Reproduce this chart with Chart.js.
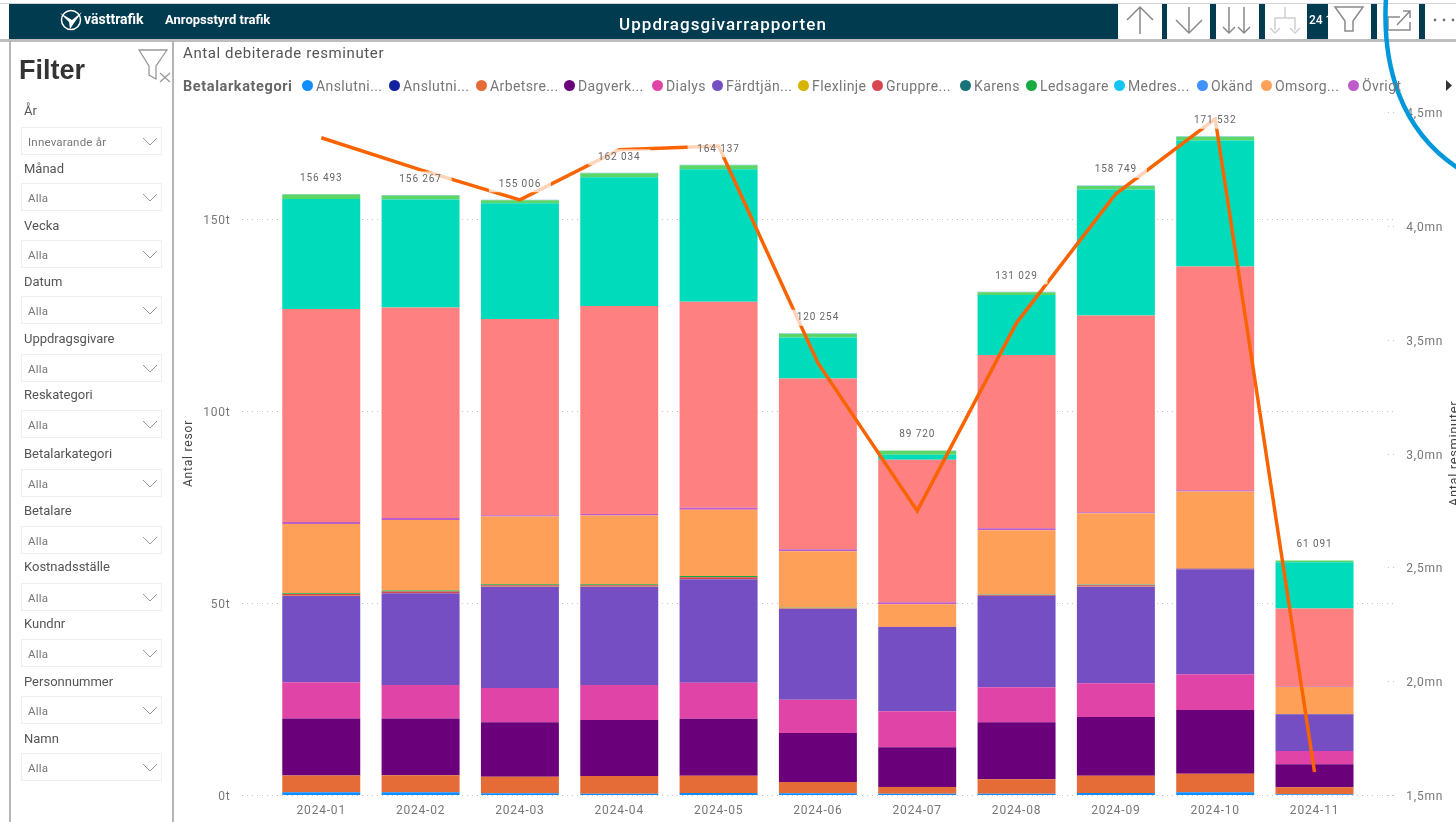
<!DOCTYPE html>
<html lang="sv">
<head>
<meta charset="utf-8">
<title>Uppdragsgivarrapporten</title>
<script src="https://cdn.jsdelivr.net/npm/chart.js@4/dist/chart.umd.min.js"></script>
<style>
    html, body { margin: 0; padding: 0; background: #fff; }
    body { width: 1456px; height: 822px; position: relative; overflow: hidden; font-family: Roboto, sans-serif; }
    .box { position: absolute; }
    .text { position: absolute; white-space: nowrap; line-height: 1; }
    #chart { position: absolute; left: 174px; top: 96px; }
    svg { position: absolute; left: 0; top: 0; pointer-events: none; }
    .dot { position: absolute; width: 11px; height: 11px; border-radius: 50%; top: 80px; }
    .legend-text { position: absolute; top: 78px; font-size: 14px; letter-spacing: 0.4px; color: #777; white-space: nowrap; line-height: 16px; }
    .slicer-label { position: absolute; left: 24px; font-size: 13px; color: #555; line-height: 1; }
    .slicer-box { position: absolute; left: 21px; width: 139px; height: 26px; border: 1px solid #efefef; box-sizing: content-box; }
    .slicer-value { position: absolute; left: 6px; top: 9px; font-size: 11.5px; letter-spacing: 0.2px; color: #777; line-height: 1; }
</style>
</head>
<body>
<svg id="chrome" width="1456" height="822"></svg>
<canvas id="chart" width="1282" height="726"></canvas>
<svg id="overlay" width="1456" height="822">
    <path d="M1386,-2 C1382,65 1400,130 1458,168" fill="none" stroke="#0098DA" stroke-width="4.5"/>
</svg>

<script>
const months = ["2024-01", "2024-02", "2024-03", "2024-04", "2024-05", "2024-06", "2024-07", "2024-08", "2024-09", "2024-10", "2024-11"];

// resor per betalarkategori, lasta fran bilden
const anslutning1 = [703, 703, 443, 339, 521, 443, 339, 339, 521, 703, 182];
const anslutning2 = [20, 20, 15, 15, 15, 10, 10, 10, 15, 15, 5];
const arbetsresor = [4323, 4427, 4323, 4609, 4505, 2943, 1745, 3750, 4505, 4844, 1823];
const dagverk = [14844, 14740, 14167, 14583, 14844, 12760, 10339, 14844, 15286, 16589, 5990];
const dialys = [9479, 8776, 8932, 9115, 9375, 8672, 9375, 9115, 8776, 9297, 3464];
const fardtjanst = [22474, 23880, 26380, 25599, 26927, 23698, 21953, 23776, 25156, 27344, 9557];
const flexlinje = [30, 30, 30, 30, 40, 10, 5, 15, 25, 10, 5];
const gruppresa = [480, 420, 330, 340, 470, 150, 45, 200, 310, 170, 50];
const karens = [20, 20, 15, 15, 25, 10, 3, 10, 15, 10, 3];
const ledsagare = [170, 210, 250, 240, 320, 90, 25, 115, 170, 70, 20];
const medresenar = [5, 5, 5, 5, 5, 5, 5, 5, 5, 5, 5];
const okand = [3, 3, 3, 3, 3, 3, 3, 3, 3, 3, 3];
const omsorg = [18047, 18411, 17604, 17865, 17266, 14688, 5833, 16771, 18594, 19948, 7109];
const ovrigt = [521, 521, 365, 443, 521, 521, 521, 521, 260, 365, 182];
// kategorier bortom legendens scrollpil, namnen syns inte i bilden
const hiddenCategoryA = [55475, 54804, 51129, 54171, 53597, 44480, 37075, 45097, 51227, 58252, 20155];
const hiddenCategoryB = [28646, 28125, 30104, 33490, 34531, 10677, 1302, 15625, 32813, 32813, 12057];
const hiddenCategoryC = [1120, 1042, 781, 1042, 1042, 964, 1042, 703, 938, 964, 443];
const hiddenCategoryD = [130, 130, 130, 130, 130, 130, 100, 130, 130, 130, 38];

const totalTrips = [156493, 156267, 155006, 162034, 164137, 120254, 89720, 131029, 158749, 171532, 61091];
const debitedMinutes = [4.387, 4.246, 4.114, 4.334, 4.351, 3.398, 2.748, 3.574, 4.141, 4.47, 1.601];
const tripTicks = [0, 50000, 100000, 150000];

const legendNames = ["Anslutni...", "Anslutni...", "Arbetsre...", "Dagverk...", "Dialys", "Färdtjän...", "Flexlinje", "Gruppre...", "Karens", "Ledsagare", "Medres...", "Okänd", "Omsorg...", "Övrigt"];
const legendColors = ["#118DFF", "#12239E", "#E66C37", "#6B007B", "#E044A7", "#744EC2", "#D9B300", "#D64550", "#197278", "#1AAB40", "#15C6F4", "#4092FF", "#FFA058", "#BE5DC9"];
const legendDots = [302, 389, 476, 564, 652, 712, 798, 872, 960, 1026, 1114, 1197, 1261, 1348];

const slicerNames = ["År", "Månad", "Vecka", "Datum", "Uppdragsgivare", "Reskategori", "Betalarkategori", "Betalare", "Kostnadsställe", "Kundnr", "Personnummer", "Namn"];
const slicerValues = ["Innevarande år", "Alla", "Alla", "Alla", "Alla", "Alla", "Alla", "Alla", "Alla", "Alla", "Alla", "Alla"];
const slicerLabelTops = [104, 162, 219, 275, 332, 388, 447, 504, 560, 617, 675, 732];
const slicerBoxTops = [127, 183, 240, 296, 354, 410, 469, 526, 583, 639, 696, 753];

const barSeries = [
    ["Anslutning 1", anslutning1, "#118DFF"],
    ["Anslutning 2", anslutning2, "#12239E"],
    ["Arbetsresor", arbetsresor, "#E66C37"],
    ["Dagverksamhet", dagverk, "#6B007B"],
    ["Dialys", dialys, "#E044A7"],
    ["Färdtjänst", fardtjanst, "#744EC2"],
    ["Flexlinje", flexlinje, "#D9B300"],
    ["Gruppresa", gruppresa, "#D64550"],
    ["Karens", karens, "#197278"],
    ["Ledsagare", ledsagare, "#1AAB40"],
    ["Medresenär", medresenar, "#15C6F4"],
    ["Okänd", okand, "#4092FF"],
    ["Omsorg", omsorg, "#FFA058"],
    ["Övrigt", ovrigt, "#BE5DC9"],
    ["Kategori A", hiddenCategoryA, "#FF8080"],
    ["Kategori B", hiddenCategoryB, "#00DBBC"],
    ["Kategori C", hiddenCategoryC, "#5BD667"],
    ["Kategori D", hiddenCategoryD, "#6FB8F0"]
];

function addBox(left, top, width, height, color) {
    const box = document.createElement("div");
    box.className = "box";
    box.style.cssText = "left:" + left + "px;top:" + top + "px;width:" + width + "px;height:" + height + "px;background:" + color;
    document.body.insertBefore(box, document.getElementById("chrome"));
}

function addText(text, left, top, size, color, weight, spacing) {
    const label = document.createElement("div");
    label.className = "text";
    label.textContent = text;
    label.style.cssText = "left:" + left + "px;top:" + top + "px;font-size:" + size + "px;color:" + color + ";font-weight:" + (weight || 400) + ";letter-spacing:" + (spacing || 0) + "px";
    document.body.appendChild(label);
    return label;
}

function addIcon(markup) {
    document.getElementById("chrome").insertAdjacentHTML("beforeend", markup);
}

function renderHeader() {
    addBox(0, 3, 1456, 1, "#cfd3d5");
    addBox(9, 4, 1447, 35, "#003B4F");
    addBox(0, 39, 1456, 3, "#bdbdbd");
    addBox(1118, 4, 44, 35, "#fff");
    addBox(1167, 4, 43, 35, "#fff");
    addBox(1216, 4, 43, 35, "#fff");
    addBox(1265, 4, 42, 35, "#fff");
    addBox(1328, 4, 43, 35, "#fff");
    addBox(1377, 4, 42, 35, "#fff");
    addBox(1425, 4, 31, 35, "#fff");

    addText("västtrafik", 84, 12, 14, "#fff", 700);
    addText("Anropsstyrd trafik", 165, 13, 13, "#fff", 700);
    addText("Uppdragsgivarrapporten", 619, 16, 17, "#fff", 500, 1.05);
    addText("24 1", 1309, 14, 12, "#fff", 500);

    addIcon('<circle cx="71" cy="20" r="9.5" fill="none" stroke="#fff" stroke-width="1.5"/>');
    addIcon('<path d="M60,13 L72,20 L82,12 L74,23 L70,29 L69,22 Z" fill="#fff"/>');
    const gray = 'fill="none" stroke="#8a8a8a" stroke-width="1.5"';
    addIcon('<path d="M1127,20 L1140,7 L1153,20 M1140,7 L1140,34" ' + gray + '/>');
    addIcon('<path d="M1176,20 L1189,33 L1202,20 M1189,7 L1189,33" ' + gray + '/>');
    addIcon('<path d="M1223,27 L1229,33 L1235,27 M1229,7 L1229,33 M1238,27 L1244,33 L1250,27 M1244,7 L1244,33" ' + gray + '/>');
    addIcon('<path d="M1285,7 L1285,18 M1275,30 L1275,18 L1295,18 L1295,30 M1270,28 L1275,33 L1280,28 M1290,28 L1295,33 L1300,28" fill="none" stroke="#d0d0d0" stroke-width="1.5"/>');
    addIcon('<path d="M1335,7 L1363,7 L1353,21 L1353,31 L1345,31 L1345,21 Z" ' + gray + '/>');
    addIcon('<path d="M1400,17 L1388,17 L1388,30 L1410,30 L1410,22 M1397,25 L1410,11 M1403,11 L1410,11 L1410,18" ' + gray + '/>');
    addIcon('<circle cx="1435" cy="20" r="1.4" fill="#777"/><circle cx="1444" cy="20" r="1.4" fill="#777"/><circle cx="1453" cy="20" r="1.4" fill="#777"/>');
}

function renderFilterPanel() {
    addBox(9, 41, 2, 781, "#b5b5b5");
    addBox(172, 41, 2, 781, "#b5b5b5");
    addText("Filter", 19, 57, 27, "#333", 700).style.fontFamily = "'Liberation Sans', sans-serif";
    addIcon('<path d="M139,50 L167,50 L156,66 L156,79 L149,75 L149,66 Z M160,73 L170,82 M170,73 L160,82" fill="none" stroke="#999" stroke-width="1.3"/>');

    slicerNames.forEach(function (name, i) {
        const label = document.createElement("div");
        label.className = "slicer-label";
        label.textContent = name;
        label.style.top = slicerLabelTops[i] + "px";
        document.body.appendChild(label);

        const box = document.createElement("div");
        box.className = "slicer-box";
        box.style.top = slicerBoxTops[i] + "px";
        const value = document.createElement("div");
        value.className = "slicer-value";
        value.textContent = slicerValues[i];
        box.appendChild(value);
        document.body.appendChild(box);

        const y = slicerBoxTops[i] + 11;
        addIcon('<path d="M143,' + y + ' L150,' + (y + 7) + ' L157,' + y + '" fill="none" stroke="#999" stroke-width="1"/>');
    });
}

function renderLegend() {
    addText("Antal debiterade resminuter", 183, 46, 15, "#555", 400, 0.6);
    addText("Betalarkategori", 183, 80, 14.5, "#666", 700, 0.6);
    legendNames.forEach(function (name, i) {
        const dot = document.createElement("div");
        dot.className = "dot";
        dot.style.left = legendDots[i] + "px";
        dot.style.background = legendColors[i];
        document.body.appendChild(dot);

        const text = document.createElement("div");
        text.className = "legend-text";
        text.textContent = name;
        text.style.left = (legendDots[i] + 14) + "px";
        document.body.appendChild(text);
    });
    addIcon('<path d="M1446,80 L1452,85.5 L1446,91 Z" fill="#333"/>');
}

const dottedGrid = {
    id: "dottedGrid",
    beforeDraw: function (chart) {
        chart.ctx.letterSpacing = "0.8px";
    },
    beforeDatasetsDraw: function (chart) {
        const ctx = chart.ctx;
        ctx.save();
        ctx.strokeStyle = "#c4c4c4";
        ctx.lineWidth = 1;
        ctx.setLineDash([1, 4]);
        chart.scales.trips.ticks.forEach(function (tick) {
            const y = Math.round(chart.scales.trips.getPixelForValue(tick.value)) + 0.5;
            ctx.beginPath();
            ctx.moveTo(68, y);
            ctx.lineTo(1223, y);
            ctx.stroke();
        });
        chart.scales.minutes.ticks.forEach(function (tick) {
            const y = Math.round(chart.scales.minutes.getPixelForValue(tick.value)) + 0.5;
            ctx.beginPath();
            ctx.moveTo(1214, y);
            ctx.lineTo(1223, y);
            ctx.stroke();
        });
        ctx.restore();
    },
    afterDatasetsDraw: function (chart) {
        const ctx = chart.ctx;
        ctx.save();
        ctx.font = "10px Roboto";
        ctx.letterSpacing = "0.9px";
        ctx.textAlign = "center";
        ctx.textBaseline = "middle";
        totalTrips.forEach(function (total, i) {
            const x = chart.scales.x.getPixelForValue(i);
            const y = chart.scales.trips.getPixelForValue(total) - 15.5;
            ctx.fillStyle = "rgba(255,255,255,0.72)";
            ctx.fillRect(x - 31, y - 8, 62, 16);
            ctx.fillStyle = "#666";
            ctx.fillText(String(total).replace(/(\d{3})$/, " $1"), x, y);
        });
        // titeln pa hogeraxeln laser nerifran och upp, tvärtom mot bibliotekets standard
        ctx.translate(1281, chart.chartArea.top + chart.chartArea.height / 2);
        ctx.rotate(-Math.PI / 2);
        ctx.font = "13px Roboto";
        ctx.letterSpacing = "0.6px";
        ctx.fillStyle = "#444";
        ctx.fillText("Antal resminuter", 0, 0);
        ctx.restore();
    }
};

function renderChart() {
    const datasets = barSeries.map(function (series) {
        return {
            type: "bar",
            label: series[0],
            data: series[1],
            backgroundColor: series[2],
            borderWidth: 0,
            yAxisID: "trips",
            stack: "resor",
            order: 2,
            barPercentage: 0.785,
            categoryPercentage: 1
        };
    });
    datasets.push({
        type: "line",
        label: "Antal debiterade resminuter",
        data: debitedMinutes,
        borderColor: "#FA6400",
        borderWidth: 3.5,
        pointRadius: 0,
        tension: 0,
        borderJoinStyle: "miter",
        yAxisID: "minutes",
        order: 1
    });

    const tickFont = { family: "Roboto", size: 12 };
    new Chart(document.getElementById("chart"), {
        data: { labels: months, datasets: datasets },
        plugins: [dottedGrid],
        options: {
            responsive: false,
            animation: false,
            devicePixelRatio: 1,
            layout: { padding: { top: 16, left: 0, right: 0, bottom: 0 } },
            plugins: { legend: { display: false }, tooltip: { enabled: false } },
            scales: {
                x: {
                    stacked: true,
                    grid: { display: false, drawTicks: false },
                    border: { display: false },
                    ticks: { color: "#777", font: tickFont, padding: 9, maxRotation: 0 },
                    afterFit: function (scale) {
                        scale.height = 27;
                        scale.paddingLeft = 0;
                        scale.paddingRight = 0;
                    }
                },
                trips: {
                    position: "left",
                    stacked: true,
                    min: 0,
                    max: 177865,
                    grid: { display: false, drawTicks: false },
                    border: { display: false },
                    title: { display: true, text: "Antal resor", color: "#444", font: { family: "Roboto", size: 12 }, padding: { top: 8, bottom: 0 } },
                    afterBuildTicks: function (scale) {
                        scale.ticks = tripTicks.map(function (value) { return { value: value }; });
                    },
                    ticks: {
                        color: "#777",
                        font: tickFont,
                        padding: 41,
                        labelOffset: 2,
                        callback: function (value) { return (value / 1000) + "t"; }
                    },
                    afterFit: function (scale) {
                        scale.width = 97.6;
                        scale.paddingTop = 0;
                        scale.paddingBottom = 0;
                    }
                },
                minutes: {
                    position: "right",
                    min: 1.5,
                    max: 4.5,
                    grid: { display: false, drawTicks: false },
                    border: { display: false },
                    ticks: {
                        stepSize: 0.5,
                        color: "#777",
                        font: tickFont,
                        padding: 42,
                        labelOffset: 2,
                        callback: function (value) { return value.toFixed(1).replace(".", ",") + "mn"; }
                    },
                    afterFit: function (scale) {
                        scale.width = 91.8;
                        scale.paddingTop = 0;
                        scale.paddingBottom = 0;
                    }
                }
            }
        }
    });
}

renderHeader();
renderFilterPanel();
renderLegend();
renderChart();
</script>
</body>
</html>
